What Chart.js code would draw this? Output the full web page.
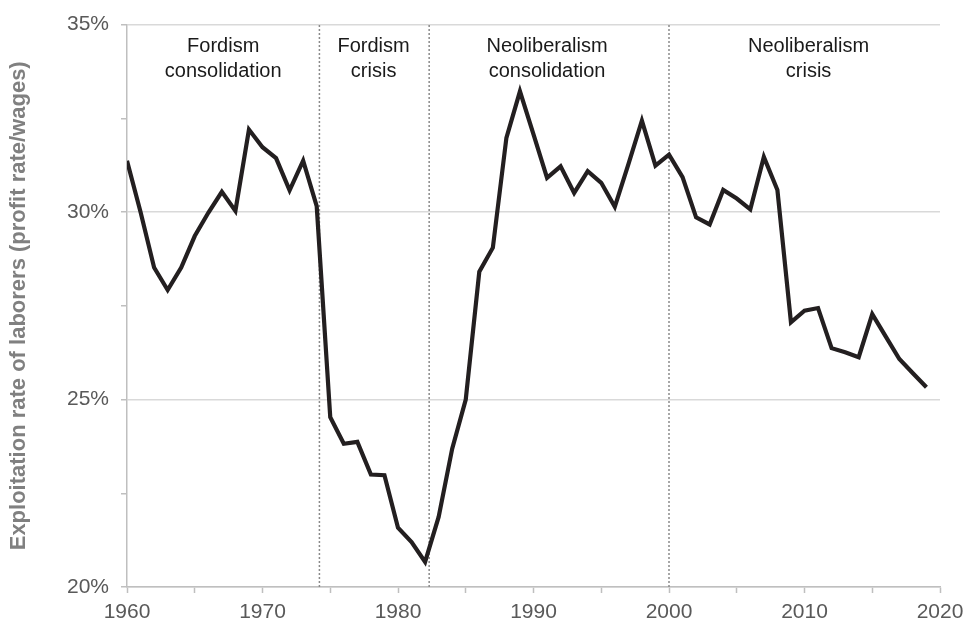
<!DOCTYPE html>
<html>
<head>
<meta charset="utf-8">
<script src="https://cdn.jsdelivr.net/npm/chart.js@4/dist/chart.umd.min.js"></script>
<style>
  body { margin: 0; background: #fff; }
  #chart { display: block; }
</style>
</head>
<body>
<canvas id="chart" width="963" height="621"></canvas>
<script>
// ==================== DATA ====================
const years = [
  1960, 1961, 1962, 1963, 1964, 1965, 1966, 1967, 1968, 1969,
  1970, 1971, 1972, 1973, 1974, 1975, 1976, 1977, 1978, 1979,
  1980, 1981, 1982, 1983, 1984, 1985, 1986, 1987, 1988, 1989,
  1990, 1991, 1992, 1993, 1994, 1995, 1996, 1997, 1998, 1999,
  2000, 2001, 2002, 2003, 2004, 2005, 2006, 2007, 2008, 2009,
  2010, 2011, 2012, 2013, 2014, 2015, 2016, 2017, 2018, 2019
];
const exploitationRate = [
  31.37, 30.0, 28.52, 27.92, 28.52, 29.36, 29.98, 30.54, 30.03, 32.2,
  31.73, 31.44, 30.58, 31.37, 30.16, 24.53, 23.82, 23.87, 23.0, 22.98,
  21.58, 21.2, 20.67, 21.87, 23.69, 25.0, 28.41, 29.05, 31.98, 33.22,
  32.07, 30.91, 31.22, 30.51, 31.09, 30.78, 30.14, 31.27, 32.44, 31.24,
  31.53, 30.93, 29.86, 29.67, 30.59, 30.36, 30.07, 31.47, 30.59, 27.06,
  27.37, 27.44, 26.37, 26.26, 26.13, 27.28, 26.68, 26.08, 25.7, 25.33
];

// grenzen tussen de periodes
const dividerYears = [1974.2, 1982.3, 2000];
// labels van de periodes (twee regels)
const periodCenters = [1967.1, 1978.2, 1991.0, 2010.3];
const periodTop = ["Fordism", "Fordism", "Neoliberalism", "Neoliberalism"];
const periodBottom = ["consolidation", "crisis", "consolidation", "crisis"];

const yTicks = { min: 20, max: 35, step: 2.5 };
const xTicks = { min: 1960, max: 2020, step: 5 };

const FONT = "'Liberation Sans', Arial, sans-serif";

// ==================== PLUGIN: PERIODE-LABELS ====================
const periodLabels = {
  id: "periodLabels",
  afterDatasetsDraw(chart) {
    const { ctx, scales } = chart;
    ctx.save();
    ctx.fillStyle = "#1a1a1a";
    ctx.font = "20px " + FONT;
    ctx.textAlign = "center";
    ctx.textBaseline = "middle";
    periodCenters.forEach((yr, i) => {
      const x = scales.x.getPixelForValue(yr);
      ctx.fillText(periodTop[i], x, 46);
      ctx.fillText(periodBottom[i], x, 71);
    });
    ctx.restore();
  }
};

// ==================== GRAFIEK ====================
const mainData = years.map((y, i) => ({ x: y, y: exploitationRate[i] }));
const dividerSets = dividerYears.map(yr => ({
  data: [{ x: yr, y: yTicks.min }, { x: yr, y: yTicks.max }],
  borderColor: "#8a8a8a",
  borderWidth: 1.5,
  borderDash: [2, 2],
  pointRadius: 0,
  order: 2,
}));

const tickFont = { family: FONT, size: 21 };

new Chart(document.getElementById("chart"), {
  type: "line",
  data: {
    datasets: [
      {
        data: mainData,
        borderColor: "#231f20",
        borderWidth: 4.2,
        pointRadius: 0,
        tension: 0,
        borderJoinStyle: "miter",
        order: 1,
      },
      ...dividerSets,
    ],
  },
  options: {
    responsive: false,
    animation: false,
    layout: { padding: { top: 23, right: 0, left: 6, bottom: 0 } },
    plugins: {
      legend: { display: false },
      tooltip: { enabled: false },
    },
    scales: {
      x: {
        type: "linear",
        min: xTicks.min,
        max: xTicks.max,
        afterFit: s => { s.height = 34; s.paddingRight = 23; },
        ticks: {
          stepSize: xTicks.step,
          color: "#595959",
          font: tickFont,
          padding: 7,
          maxRotation: 0,
          autoSkip: false,
          callback: v => (v % 10 === 0 ? String(v) : ""),
        },
        grid: {
          drawOnChartArea: false,
          tickLength: 6,
          tickColor: "#bfbfbf",
          tickWidth: 1.5,
        },
        border: { color: "#bfbfbf", width: 1.5 },
      },
      y: {
        min: yTicks.min,
        max: yTicks.max,
        afterFit: s => { s.width = 121; },
        ticks: {
          stepSize: yTicks.step,
          color: "#595959",
          font: tickFont,
          padding: 12,
          autoSkip: false,
          callback: v => (v % 5 === 0 ? v + "%" : ""),
        },
        grid: {
          color: c => (c.tick && c.tick.value % 5 === 0 ? "#d9d9d9" : "rgba(0,0,0,0)"),
          lineWidth: 1.5,
          tickLength: 6,
          tickColor: "#bfbfbf",
          tickWidth: 1.5,
        },
        border: { color: "#bfbfbf", width: 1.5 },
        title: {
          display: true,
          text: "Exploitation rate of laborers (profit rate/wages)",
          color: "#808080",
          font: { family: FONT, size: 22, weight: "bold" },
          padding: { top: 0, bottom: 4 },
        },
      },
    },
  },
  plugins: [periodLabels],
});
</script>
</body>
</html>
